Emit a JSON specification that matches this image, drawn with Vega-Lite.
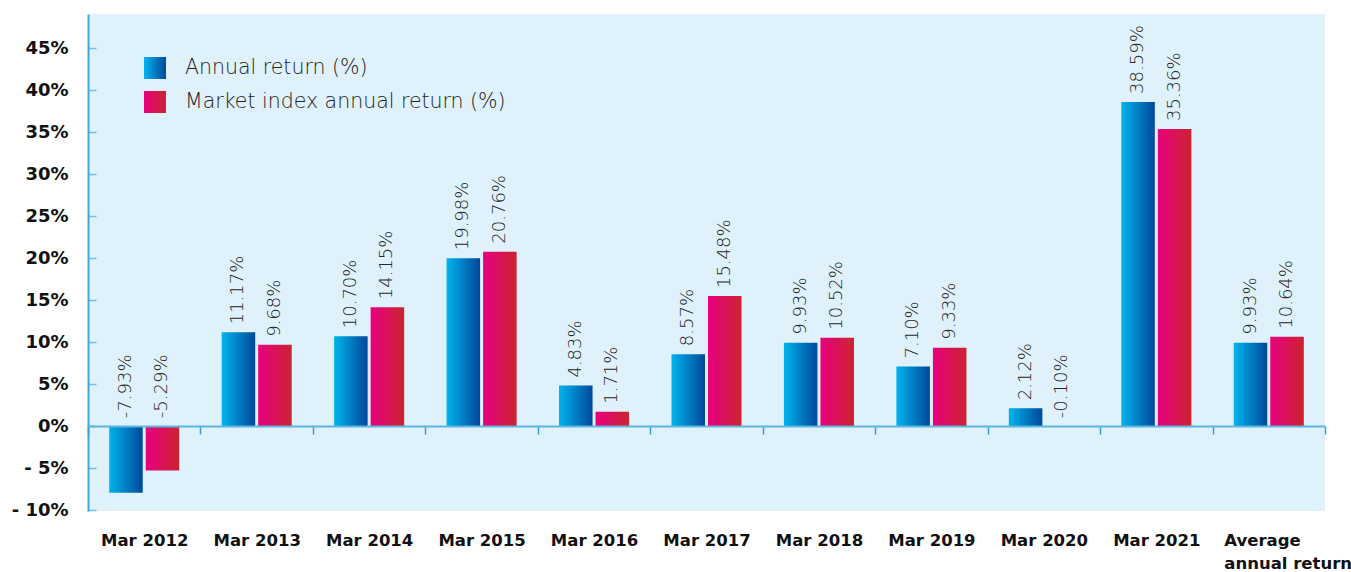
{
  "$schema": "https://vega.github.io/schema/vega-lite/v6.json",
  "width": 1237,
  "height": 497,
  "autosize": "none",
  "padding": {"left": 88, "top": 14, "right": 26, "bottom": 61},
  "background": "white",
  "config": {
    "view": {"fill": "#dff1fb", "stroke": null}
  },
  "data": {
    "values": [
      {"period": "Mar 2012", "series": "Annual return (%)", "value": -7.93},
      {"period": "Mar 2012", "series": "Market index annual return (%)", "value": -5.29},
      {"period": "Mar 2013", "series": "Annual return (%)", "value": 11.17},
      {"period": "Mar 2013", "series": "Market index annual return (%)", "value": 9.68},
      {"period": "Mar 2014", "series": "Annual return (%)", "value": 10.70},
      {"period": "Mar 2014", "series": "Market index annual return (%)", "value": 14.15},
      {"period": "Mar 2015", "series": "Annual return (%)", "value": 19.98},
      {"period": "Mar 2015", "series": "Market index annual return (%)", "value": 20.76},
      {"period": "Mar 2016", "series": "Annual return (%)", "value": 4.83},
      {"period": "Mar 2016", "series": "Market index annual return (%)", "value": 1.71},
      {"period": "Mar 2017", "series": "Annual return (%)", "value": 8.57},
      {"period": "Mar 2017", "series": "Market index annual return (%)", "value": 15.48},
      {"period": "Mar 2018", "series": "Annual return (%)", "value": 9.93},
      {"period": "Mar 2018", "series": "Market index annual return (%)", "value": 10.52},
      {"period": "Mar 2019", "series": "Annual return (%)", "value": 7.10},
      {"period": "Mar 2019", "series": "Market index annual return (%)", "value": 9.33},
      {"period": "Mar 2020", "series": "Annual return (%)", "value": 2.12},
      {"period": "Mar 2020", "series": "Market index annual return (%)", "value": -0.10},
      {"period": "Mar 2021", "series": "Annual return (%)", "value": 38.59},
      {"period": "Mar 2021", "series": "Market index annual return (%)", "value": 35.36},
      {"period": "Average annual return", "series": "Annual return (%)", "value": 9.93},
      {"period": "Average annual return", "series": "Market index annual return (%)", "value": 10.64}
    ]
  },
  "transform": [
    {"calculate": "(datum.value < 0 ? '-' : '') + format(abs(datum.value), '.2f') + '%'", "as": "label"}
  ],
  "encoding": {
    "x": {
      "field": "period",
      "type": "nominal",
      "sort": null,
      "title": null,
      "scale": {"paddingInner": 0, "paddingOuter": 0},
      "axis": {
        "orient": "bottom",
        "offset": -85,
        "zindex": 1,
        "domain": true,
        "domainColor": "#5cb6e4",
        "domainWidth": 2,
        "ticks": true,
        "tickBand": "extent",
        "tickColor": "#3a9fd6",
        "tickSize": 8,
        "tickWidth": 1.5,
        "labelAngle": 0,
        "labelPadding": 98,
        "labelFont": "DejaVu Sans",
        "labelFontWeight": "bold",
        "labelFontSize": 16.5,
        "labelColor": "#111111",
        "labelLineHeight": 23,
        "labelBaseline": "top",
        "labelLimit": 0,
        "labelAlign": {"condition": {"test": "datum.value == 'Average annual return'", "value": "left"}, "value": "center"},
        "labelOffset": {"condition": {"test": "datum.value == 'Average annual return'", "value": -45}, "value": 0},
        "labelExpr": "datum.value == 'Average annual return' ? ['Average', 'annual return'] : datum.value"
      }
    },
    "xOffset": {
      "field": "series",
      "type": "nominal",
      "sort": null,
      "scale": {"paddingInner": 0.082, "paddingOuter": 0.58}
    }
  },
  "layer": [
    {
      "mark": {"type": "bar"},
      "encoding": {
        "y": {
          "field": "value",
          "type": "quantitative",
          "title": null,
          "scale": {"domain": [-10.1, 49.05], "nice": false, "zero": false},
          "axis": {
            "values": [-10, -5, 0, 5, 10, 15, 20, 25, 30, 35, 40, 45],
            "grid": false,
            "domain": true,
            "domainColor": "#3aa7de",
            "domainWidth": 2,
            "ticks": true,
            "tickColor": "#6cc0ea",
            "tickSize": -8,
            "tickWidth": 1.5,
            "labelFont": "DejaVu Sans",
            "labelFontWeight": "bold",
            "labelFontSize": 18,
            "labelColor": "#111111",
            "labelPadding": 28,
            "labelExpr": "datum.value < 0 ? '- ' + abs(datum.value) + '%' : datum.value + '%'"
          }
        },
        "color": {
          "field": "series",
          "type": "nominal",
          "sort": null,
          "scale": {
            "domain": ["Annual return (%)", "Market index annual return (%)"],
            "range": [
              {"expr": "{gradient: 'linear', x1: 0, y1: 0, x2: 1, y2: 0, stops: [{offset: 0, color: '#00b4ee'}, {offset: 1, color: '#00489a'}]}"},
              {"expr": "{gradient: 'linear', x1: 0, y1: 0, x2: 1, y2: 0, stops: [{offset: 0, color: '#e8007f'}, {offset: 1, color: '#cb2430'}]}"}
            ]
          },
          "legend": {
            "title": null,
            "orient": "none",
            "legendX": 56,
            "legendY": 43,
            "symbolType": "square",
            "symbolSize": 484,
            "symbolStrokeWidth": 0,
            "labelFont": "DejaVu Sans",
            "labelFontSize": 20.5,
            "labelFontWeight": 300,
            "labelColor": "#222222",
            "labelOffset": 19,
            "labelLimit": 0,
            "rowPadding": 12,
            "encode": {
              "symbols": {
                "update": {
                  "fill": {"signal": "datum.value == 'Annual return (%)' ? {gradient: 'linear', x1: 0, y1: 0, x2: 0, y2: 1, stops: [{offset: 0, color: '#00b0ef'}, {offset: 1, color: '#0050a0'}]} : {gradient: 'linear', x1: 0, y1: 0, x2: 0, y2: 1, stops: [{offset: 0, color: '#e8007f'}, {offset: 1, color: '#cc2431'}]}"},
                  "stroke": {"value": "transparent"},
                  "opacity": {"value": 1}
                }
              }
            }
          }
        }
      }
    },
    {
      "transform": [{"filter": "datum.value >= 0"}],
      "mark": {"type": "text", "angle": 270, "align": "left", "baseline": "middle", "dx": 8, "font": "DejaVu Sans", "fontSize": 18, "fontWeight": 300, "color": "#262626"},
      "encoding": {
        "y": {"field": "value", "type": "quantitative"},
        "text": {"field": "label"}
      }
    },
    {
      "transform": [{"filter": "datum.value < 0"}],
      "mark": {"type": "text", "angle": 270, "align": "left", "baseline": "middle", "dx": 8, "font": "DejaVu Sans", "fontSize": 18, "fontWeight": 300, "color": "#262626"},
      "encoding": {
        "y": {"datum": 0, "type": "quantitative"},
        "text": {"field": "label"}
      }
    }
  ]
}
